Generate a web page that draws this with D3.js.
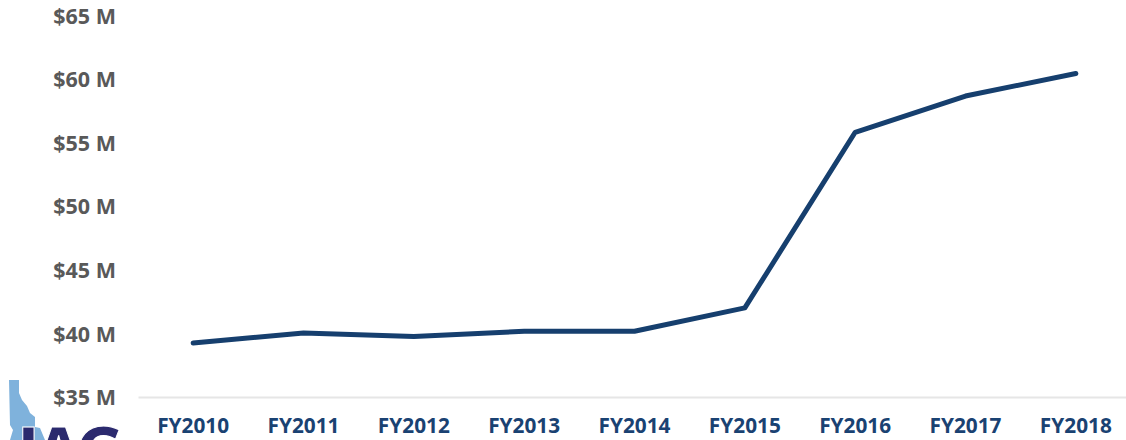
<!DOCTYPE html>
<html><head><meta charset="utf-8">
<script src="https://cdnjs.cloudflare.com/ajax/libs/d3/7.8.5/d3.min.js"></script>
<style>html,body{margin:0;padding:0;background:#fff;overflow:hidden}svg{display:block}
text{font-family:"Open Sans",sans-serif;font-weight:700}</style></head>
<body><svg id="c" width="1126" height="440"></svg>
<script>
const years=["FY2010","FY2011","FY2012","FY2013","FY2014","FY2015","FY2016","FY2017","FY2018"];
const funding=[39.25,40.03,39.75,40.17,40.17,42.0,55.8,58.65,60.42];
const yTicks=[35,40,45,50,55,60,65];
const logoLetters=["I","A","C"];
const logoCenters=[28.5,58.5,98];
const svg=d3.select("#c");
const x=d3.scaleBand().domain(years).range([138,1131]);
const y=d3.scaleLinear().domain([35,65]).range([397,15.2]);
// logo
const logo=svg.append("g");
logo.append("path").attr("fill","#7fb2dc")
 .attr("d","M9 380L19 380L19 393L22 400L27 406L30 413L35 417L35 427L40 428L45 440L10 440L13 430L10 425Z");
logo.selectAll("text").data(logoLetters).join("text")
 .attr("x",(d,i)=>logoCenters[i]).attr("y",481).attr("text-anchor","middle")
 .attr("font-size",75).attr("fill","#2b2a6e").attr("stroke","#fff").attr("stroke-width",1).text(d=>d);
// axes
const xAxis=svg.append("g").attr("transform","translate(0,397)").call(d3.axisBottom(x).tickSize(0).tickPadding(21));
xAxis.select(".domain").attr("stroke","#e6e6e6").attr("stroke-width",2);
xAxis.selectAll("text").attr("font-size",20.8).attr("fill","#1a4272").attr("font-family","'Open Sans',sans-serif").attr("font-weight",700);
const yAxis=svg.append("g").attr("transform","translate(116,1)").call(d3.axisLeft(y).tickValues(yTicks).tickSize(0).tickPadding(0).tickFormat(d=>"$"+d+" M"));
yAxis.select(".domain").remove();
yAxis.selectAll("text").attr("font-size",21.5).attr("fill","#595959").attr("font-family","'Open Sans',sans-serif").attr("font-weight",700);
// line
const line=d3.line().x((d,i)=>x(years[i])+x.bandwidth()/2).y(d=>y(d));
svg.append("path").datum(funding).attr("fill","none").attr("stroke","#163f6e").attr("stroke-width",5).attr("stroke-linecap","round").attr("stroke-linejoin","round").attr("d",line);
</script></body></html>
